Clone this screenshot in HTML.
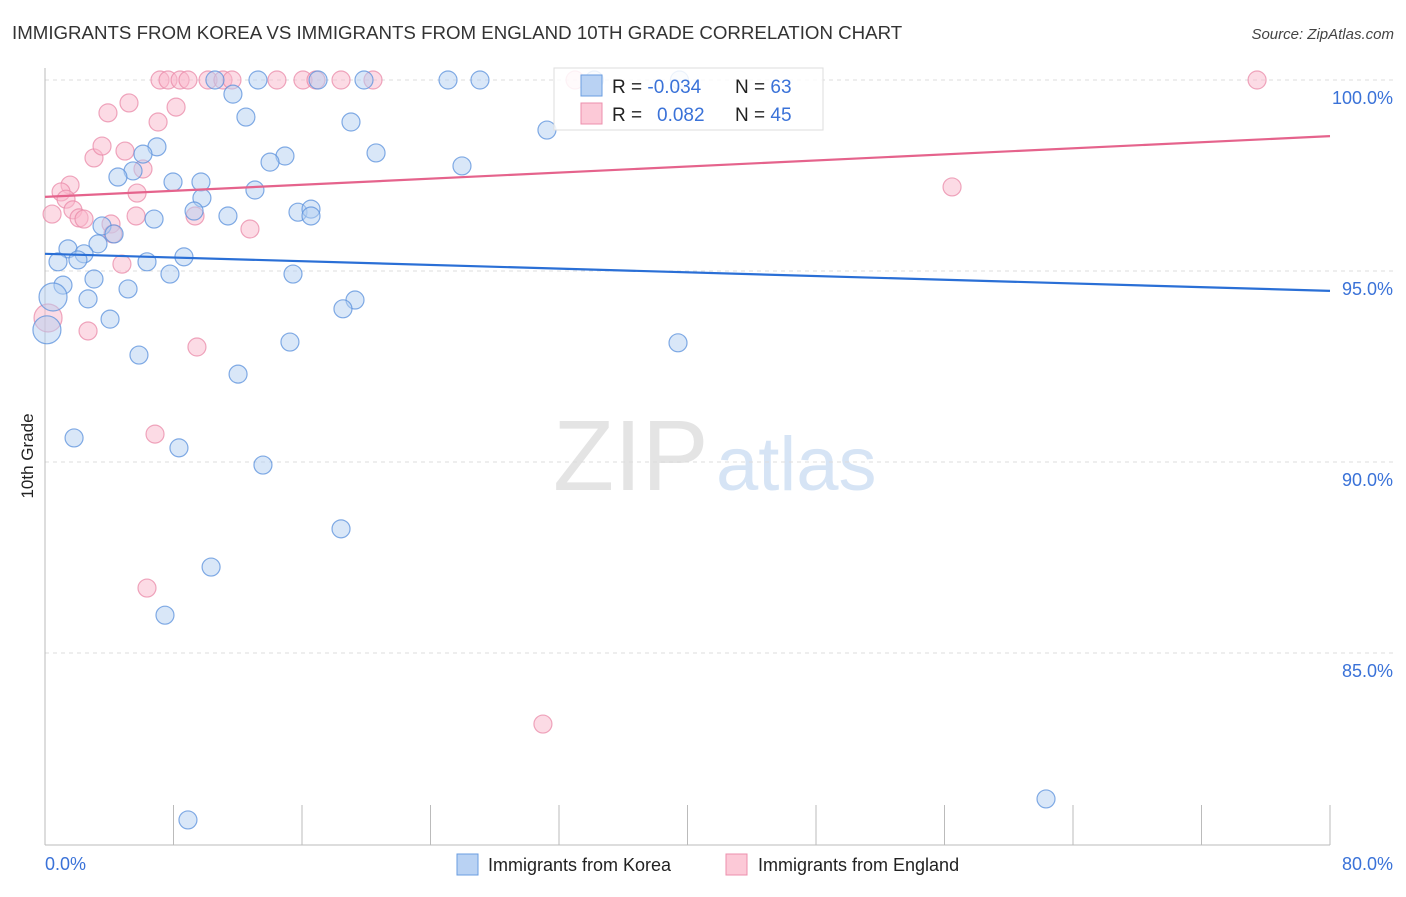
<!DOCTYPE html>
<html><head><meta charset="utf-8"><style>
body{margin:0;background:#fff;font-family:"Liberation Sans",sans-serif;}
svg text{font-family:"Liberation Sans",sans-serif;}
</style></head><body>
<svg id="chart" width="1406" height="892" xmlns="http://www.w3.org/2000/svg">
<text x="12" y="39" font-size="18.7" fill="#333">IMMIGRANTS FROM KOREA VS IMMIGRANTS FROM ENGLAND 10TH GRADE CORRELATION CHART</text>
<text x="1394" y="39" font-size="15" fill="#444" text-anchor="end" font-style="italic">Source: ZipAtlas.com</text>
<g><text x="553" y="490" font-size="100" fill="#e4e4e4" font-family="Liberation Serif">ZIP</text><text x="716" y="490" font-size="76" fill="#d6e4f5">atlas</text></g>
<g id="grid"></g>
<line x1="45" y1="68" x2="45" y2="845" stroke="#bbb"/>
<line x1="45" y1="845" x2="1330" y2="845" stroke="#bbb"/>
<g id="xticks"></g>
<text transform="translate(33,456) rotate(-90)" font-size="17" fill="#222" text-anchor="middle">10th Grade</text>
<text x="45" y="870" font-size="18" fill="#3a72d8">0.0%</text>
<text x="1393" y="870" font-size="18" fill="#3a72d8" text-anchor="end">80.0%</text>
<g id="pts"></g>
<g id="trends"></g>
<g>
<rect x="554" y="68" width="269" height="62" fill="#fff" fill-opacity="0.85" stroke="#ddd"/>
<rect x="581" y="75" width="21" height="21" fill="#b9d2f3" stroke="#6a9de0"/>
<rect x="581" y="103" width="21" height="21" fill="#fcc9d7" stroke="#ec8fac"/>
<text x="612" y="93" font-size="19" fill="#222">R = <tspan fill="#3a72d8">-0.034</tspan><tspan x="735">N = </tspan><tspan fill="#3a72d8">63</tspan></text>
<text x="612" y="121" font-size="19" fill="#222">R = <tspan x="657" fill="#3a72d8">0.082</tspan><tspan x="735">N = </tspan><tspan fill="#3a72d8">45</tspan></text>
</g>
<g><rect x="457" y="854" width="21" height="21" fill="#b9d2f3" stroke="#6a9de0"/><text x="488" y="871" font-size="18" fill="#222">Immigrants from Korea</text></g>
<g><rect x="726" y="854" width="21" height="21" fill="#fcc9d7" stroke="#ec8fac"/><text x="758" y="871" font-size="18" fill="#222">Immigrants from England</text></g>
</svg>
<script>
const yTicks=[100,95,90,85];
const yTickLabels=["100.0%","95.0%","90.0%","85.0%"];
const xTickCount=10;
const koreaX=[10.58,13.26,17.0,19.86,25.09,27.08,34.2,39.5,11.70,12.51,19.05,31.25,6.97,6.10,20.61,14.94,14.01,25.96,5.48,4.54,7.97,9.71,13.07,9.77,9.28,15.75,16.56,16.56,11.39,6.79,3.55,4.30,3.30,1.43,2.43,0.81,2.05,6.35,8.65,7.78,15.44,3.05,1.12,5.17,0.50,2.68,19.30,18.55,4.05,0.12,15.25,39.41,5.85,12.02,1.81,8.34,13.57,18.43,10.34,7.47,62.32,8.90];
const koreaY=[100,100,100,100,100,100,100,100,99.63,99.03,98.90,98.69,98.25,98.06,98.09,98.01,97.85,97.75,97.62,97.46,97.33,97.33,97.12,96.91,96.57,96.54,96.62,96.44,96.44,96.36,96.18,95.97,95.71,95.58,95.45,95.24,95.29,95.24,95.37,94.92,94.92,94.79,94.63,94.53,94.32,94.27,94.24,94.01,93.74,93.46,93.14,93.12,92.80,92.30,90.63,90.37,89.92,88.25,87.25,85.99,81.18,80.63];
const englandX=[7.16,7.66,8.41,8.90,10.15,11.08,11.64,14.44,16.06,16.87,18.43,20.42,33.0,75.46,3.92,5.23,8.16,7.04,3.05,3.55,4.98,6.10,5.73,1.56,1.0,1.31,0.44,1.74,2.12,2.43,4.11,5.67,9.34,12.76,4.79,0.19,2.68,9.46,6.85,6.35,31.0,56.47,4.23];
const englandY=[100,100,100,100,100,100,100,100,100,100,100,100,100,100,99.14,99.40,99.29,98.90,97.96,98.27,98.14,97.67,97.04,97.25,97.07,96.88,96.49,96.60,96.39,96.36,96.23,96.44,96.44,96.10,95.18,93.77,93.43,93.01,90.73,86.70,83.14,97.20,95.97];
const koreaTrend=[95.45,94.48];
const englandTrend=[96.94,98.53];
const NS="http://www.w3.org/2000/svg";
function xs(v){return 45+v/80*1285;}
function ys(v){return 80+(100-v)*38.2;}
function mk(t,a,p){const e=document.createElementNS(NS,t);for(const k in a)e.setAttribute(k,a[k]);p.appendChild(e);return e;}
const grid=document.getElementById('grid');
yTicks.forEach((t,i)=>{
  const l=mk('line',{x1:45,x2:1395,y1:ys(t),y2:ys(t),stroke:'#ddd','stroke-dasharray':'4,4'},grid);
  
  
  const tx=mk('text',{x:1393,y:ys(t)+24,'font-size':18,fill:'#3a72d8','text-anchor':'end'},grid);
  tx.textContent=yTickLabels[i];
  
  
});
const xt=document.getElementById('xticks');
for(let i=0;i<=xTickCount;i++){
  const x=xs(i*80/xTickCount);
  const l=mk('line',{x1:x,x2:x,y1:805,y2:845,stroke:'#bbb'},xt);
  
  
}
const pts=document.getElementById('pts');
function draw(X,Y,fill,stroke,name){
  X.forEach((x,i)=>{
    const big=(x<0.6&&Y[i]<94.5&&Y[i]>93);
    const c=mk('circle',{cx:xs(x),cy:ys(Y[i]),r:big?14:9,fill:fill,'fill-opacity':0.5,stroke:stroke,'stroke-opacity':0.75,'stroke-width':1.2},pts);
    
    
  });
}
draw(englandX,englandY,'#f9b8cb','#e98aa8','england-point');
draw(koreaX,koreaY,'#b3cff2','#5a90dc','korea-point');
const tr=document.getElementById('trends');
const t1=mk('line',{x1:xs(0),x2:xs(80),y1:ys(koreaTrend[0]),y2:ys(koreaTrend[1]),stroke:'#2a6fd6','stroke-width':2.2},tr);


const t2=mk('line',{x1:xs(0),x2:xs(80),y1:ys(englandTrend[0]),y2:ys(englandTrend[1]),stroke:'#e5638c','stroke-width':2.2},tr);


</script>
</body></html>
